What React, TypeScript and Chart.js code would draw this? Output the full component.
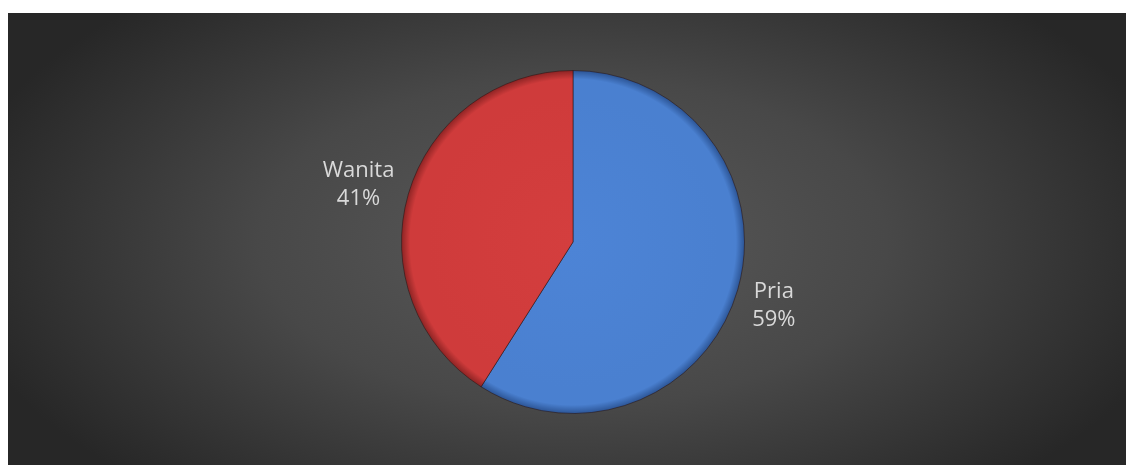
import React, { useEffect, useRef } from "react";
import { Chart, registerables } from "chart.js";

Chart.register(...registerables);

const categories = ["Pria", "Wanita"];
const values = [59, 41];
const percentLabels = ["59%", "41%"];

const baseColors = ["#4a80d0", "#cf3b3b"];
const lightColors = ["#4d84d6", "#d43e3e"];
const rimColors = ["#2c5596", "#8e2424"];

const bgPlugin = {
  id: "bgGradient",
  beforeDraw(chart: any) {
    const { ctx, width, height } = chart;
    const cx = 565;
    const cy = 229;
    ctx.save();
    ctx.translate(cx, cy);
    ctx.scale(1.9, 1);
    const g = ctx.createRadialGradient(0, 0, 0, 0, 0, 330);
    g.addColorStop(0, "#5a5a5a");
    g.addColorStop(0.5, "#484848");
    g.addColorStop(1, "#272727");
    ctx.fillStyle = g;
    ctx.fillRect(-cx / 1.9, -cy, width / 1.9, height);
    ctx.restore();
  },
};

const labelPlugin = {
  id: "outsideLabels",
  afterDatasetsDraw(chart: any) {
    const { ctx } = chart;
    const meta = chart.getDatasetMeta(0);
    ctx.save();
    ctx.font = '22px "Open Sans"';
    ctx.fillStyle = "#d9d9d9";
    ctx.textAlign = "center";
    ctx.textBaseline = "middle";
    const lineH = 28;
    meta.data.forEach((arc: any, i: number) => {
      const { x, y, startAngle, endAngle, outerRadius } = arc.getProps(
        ["x", "y", "startAngle", "endAngle", "outerRadius"],
        true
      );
      const mid = (startAngle + endAngle) / 2;
      const dx = Math.cos(mid);
      const dy = Math.sin(mid);
      const l1 = categories[i];
      const l2 = percentLabels[i];
      const w = Math.max(ctx.measureText(l1).width, ctx.measureText(l2).width);
      const h = lineH * 2;
      const ax = x + (outerRadius + 16) * dx;
      const ay = y + (outerRadius + 18) * dy;
      const bx = ax + (dx * w) / 2;
      const by = ay + (dy * h) / 2 + 3;
      ctx.fillText(l1, bx, by - lineH / 2);
      ctx.fillText(l2, bx, by + lineH / 2);
    });
    ctx.restore();
  },
};

export default function App() {
  const ref = useRef<HTMLCanvasElement | null>(null);
  useEffect(() => {
    if (!ref.current) return;
    const chart = new Chart(ref.current, {
      type: "pie",
      data: {
        labels: categories,
        datasets: [
          {
            data: values,
            backgroundColor: (c: any) => {
              const ch = c.chart;
              const i = c.dataIndex;
              const meta = ch.getDatasetMeta(0);
              const arc = meta.data[i];
              if (!arc || !arc.outerRadius) return baseColors[i];
              const g = ch.ctx.createRadialGradient(
                arc.x,
                arc.y,
                0,
                arc.x,
                arc.y,
                arc.outerRadius
              );
              g.addColorStop(0, lightColors[i]);
              g.addColorStop(0.85, baseColors[i]);
              g.addColorStop(0.95, baseColors[i]);
              g.addColorStop(1, rimColors[i]);
              return g;
            },
            borderColor: "rgba(40,20,20,0.55)",
            borderWidth: 1,
          },
        ],
      },
      options: {
        animation: false,
        responsive: false,
        maintainAspectRatio: false,
        layout: { padding: { top: 57, bottom: 51, left: 4, right: 0 } },
        plugins: {
          legend: { display: false },
          tooltip: { enabled: false },
          title: { display: false },
        },
      },
      plugins: [bgPlugin, labelPlugin],
    });
    chart.update();
    return () => chart.destroy();
  }, []);
  return (
    <div style={{ marginTop: 5, width: 1126, height: 452 }}>
      <canvas ref={ref} width={1126} height={452} style={{ display: "block" }} />
    </div>
  );
}
